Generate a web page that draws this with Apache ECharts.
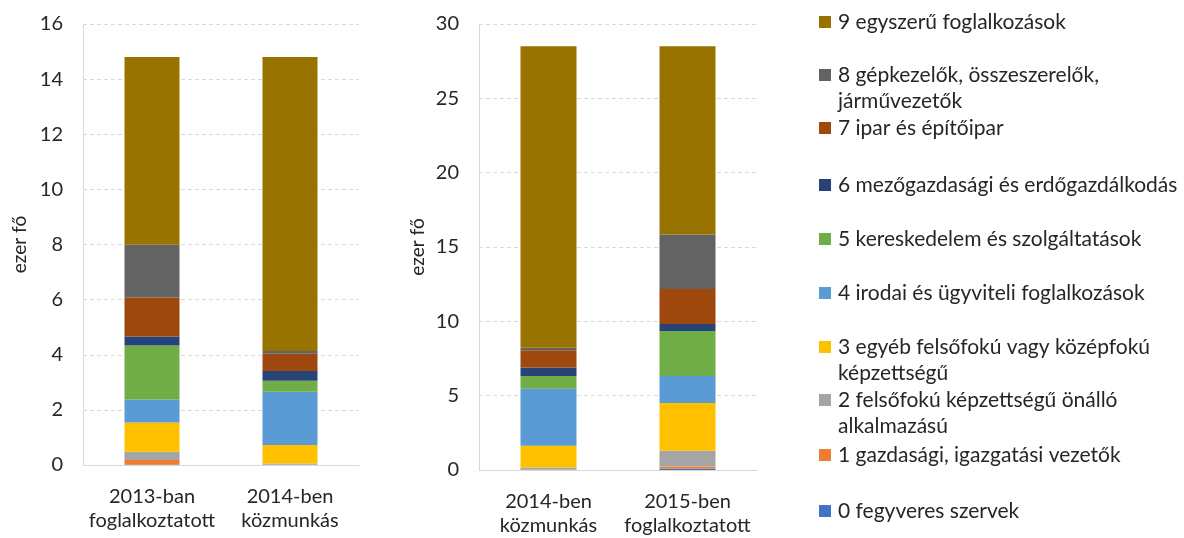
<!DOCTYPE html>
<html>
<head>
<meta charset="utf-8">
<script src="https://cdn.jsdelivr.net/npm/echarts@6/dist/echarts.min.js"></script>
<style>
  html, body { margin: 0; padding: 0; background: #fff; }
  #chart { width: 1184px; height: 538px; }
</style>
</head>
<body>
<div id="chart"></div>
<script>
const FONT = "Lato";

const seriesNames = [
  "0 fegyveres szervek",
  "1 gazdasági, igazgatási vezetők",
  "2 felsőfokú képzettségű önálló\nalkalmazású",
  "3 egyéb felsőfokú vagy középfokú\nképzettségű",
  "4 irodai és ügyviteli foglalkozások",
  "5 kereskedelem és szolgáltatások",
  "6 mezőgazdasági és erdőgazdálkodás",
  "7 ipar és építőipar",
  "8 gépkezelők, összeszerelők,\njárművezetők",
  "9 egyszerű foglalkozások"
];
const colors = ["#4472C4", "#ED7D31", "#A5A5A5", "#FFC000", "#5B9BD5", "#70AD47", "#264478", "#9E480E", "#636363", "#997300"];

const leftCategories = ["2013-ban\nfoglalkoztatott", "2014-ben\nközmunkás"];
const rightCategories = ["2014-ben\nközmunkás", "2015-ben\nfoglalkoztatott"];

// ezer fő, index = foglalkozási főcsoport 0..9
const left2013 = [0.01, 0.17, 0.30, 1.06, 0.84, 1.96, 0.32, 1.42, 1.91, 6.81];
const left2014 = [0.01, 0.01, 0.03, 0.68, 1.93, 0.40, 0.35, 0.63, 0.10, 10.66];
const right2014 = [0.02, 0.02, 0.12, 1.47, 3.83, 0.87, 0.57, 1.16, 0.16, 20.28];
const right2015 = [0.09, 0.15, 1.05, 3.21, 1.83, 3.02, 0.47, 2.36, 3.66, 12.66];

const leftTicks = { min: 0, max: 16, interval: 2 };
const rightTicks = { min: 0, max: 30, interval: 5 };

const textColor = "#262626";
const AXIS_FS = 20;
const LEGEND_FS = 21;
const gridLine = { show: true, lineStyle: { color: "#d9d9d9", type: [4, 3], width: 1 } };

function yAxis(gridIndex, ticks, nameGap) {
  return {
    type: "value", gridIndex, ...ticks,
    name: "ezer fő", nameLocation: "middle", nameGap,
    nameTextStyle: { fontFamily: FONT, fontSize: 19, color: textColor },
    axisLine: { show: true, lineStyle: { color: "#d9d9d9" } },
    axisTick: { show: false },
    axisLabel: { fontFamily: FONT, fontSize: AXIS_FS, color: textColor, margin: 20 },
    splitLine: gridLine
  };
}
function xAxis(gridIndex, data) {
  return {
    type: "category", gridIndex, data,
    axisLine: { lineStyle: { color: "#d9d9d9" } },
    axisTick: { show: false },
    axisLabel: { fontFamily: FONT, fontSize: AXIS_FS, color: textColor, margin: 20, lineHeight: 24, interval: 0 }
  };
}

const series = [];
seriesNames.forEach((name, i) => {
  series.push({
    name, type: "bar", stack: "L", xAxisIndex: 0, yAxisIndex: 0, barWidth: 55,
    itemStyle: { color: colors[i] },
    data: [left2013[i], left2014[i]]
  });
  series.push({
    name, type: "bar", stack: "R", xAxisIndex: 1, yAxisIndex: 1, barWidth: 56,
    itemStyle: { color: colors[i] },
    data: [right2014[i], right2015[i]]
  });
});

// legend: one component per item, marker aligned with the first text line
const legendCenters = [511, 455, 400, 347, 293, 239, 185, 128, 75, 22];
const legends = seriesNames.map((name, i) => ({
  data: [name],
  left: 819, top: legendCenters[i] - 13,
  padding: 0,
  itemWidth: 12, itemHeight: 12,
  icon: "rect",
  selectedMode: false,
  formatter: (n) => n.split("\n")[0],
  textStyle: { fontFamily: FONT, fontSize: LEGEND_FS, color: textColor, lineHeight: 26, padding: [0, 0, 0, 2] }
}));
// second lines of the wrapped legend entries
const extraLines = [];
seriesNames.forEach((name, i) => {
  const parts = name.split("\n");
  if (parts.length > 1) {
    extraLines.push({
      type: "text", left: 838, top: legendCenters[i] + 16,
      style: { text: parts[1], font: LEGEND_FS + "px " + FONT, fill: textColor }
    });
  }
});

const chart = echarts.init(document.getElementById("chart"), null, { renderer: "canvas" });
chart.setOption({
  animation: false,
  textStyle: { fontFamily: FONT },
  grid: [
    { left: 83, width: 276, top: 24, bottom: 73 },
    { left: 479, width: 278, top: 24, bottom: 66 }
  ],
  xAxis: [xAxis(0, leftCategories), xAxis(1, rightCategories)],
  yAxis: [yAxis(0, leftTicks, 54), yAxis(1, rightTicks, 52)],
  legend: legends,
  graphic: extraLines,
  series
});
</script>
</body>
</html>
